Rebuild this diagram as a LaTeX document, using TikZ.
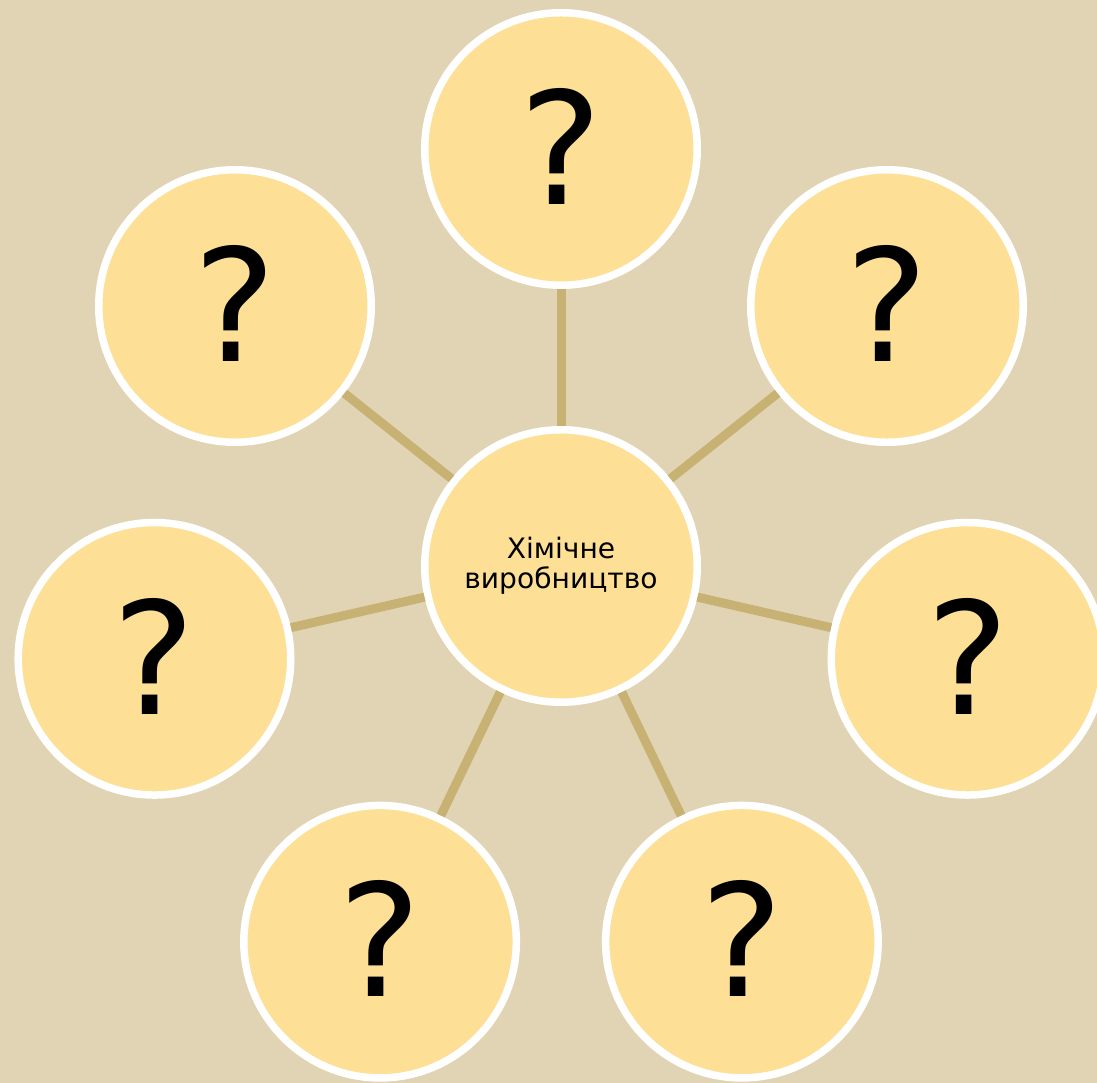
\documentclass[tikz,border=0pt]{standalone}
\usepackage{fontspec}
\setmainfont{DejaVu Sans}
\usetikzlibrary{positioning}
\definecolor{parchment}{RGB}{225,212,180}
\definecolor{bubble}{RGB}{253,224,150}
\definecolor{rope}{RGB}{200,178,115}
\tikzset{%
  bubble/.style={circle,draw=white,line width=0.15cm,fill=bubble,minimum size=5.45cm,inner sep=0pt,align=center},
  ask/.style={bubble,font=\fontsize{89}{89}\selectfont},
  hub/.style={bubble,font=\fontsize{16}{17}\selectfont},
  link/.style={draw=rope,line width=0.18cm}
}
\begin{document}
\begin{tikzpicture}
	% page: 1097 x 1083 px at 0.02cm per px, centre of hub at (561,566)
	\fill[parchment] (-11.22,11.32) rectangle (10.72,-10.34);
	\useasboundingbox (-11.22,11.32) rectangle (10.72,-10.34);
	\begin{scope}
	\clip (-11.22,11.32) rectangle (10.72,-10.34);
	\node[hub] (chem production) at (0,0) {Хімічне\\виробництво};
	\foreach \i in {0,...,6} {%
		\node[ask] (q\i) at ({90-\i*360/7}:8.34) {\raisebox{0.11cm}{?}};
		\draw[link] (chem production) -- (q\i);
	}
	\end{scope}
\end{tikzpicture}
\end{document}
